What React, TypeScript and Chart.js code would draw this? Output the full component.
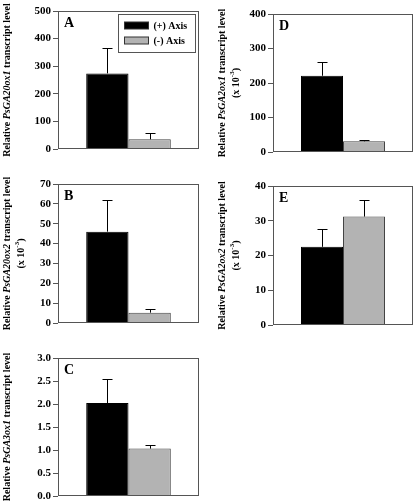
import React, { useEffect, useRef } from 'react';
import { Chart, registerables } from 'chart.js';
Chart.register(...registerables);

// ---- data ----
const categories = [''];
const seriesLabels = ['(+) Axis', '(-) Axis'];
const seriesColors = ['#000000', '#b3b3b3'];
const panelLetters = ['A', 'B', 'C', 'D', 'E'];
const geneNames = ['PsGA20ox1', 'PsGA20ox2', 'PsGA3ox1', 'PsGA2ox1', 'PsGA2ox2'];
const scaledBy1e3 = [false, true, false, true, true];
const plusAxisMeans = [274, 46, 2.02, 221, 22.5];
const plusAxisErrors = [93, 16, 0.52, 40, 5.1];
const minusAxisMeans = [35, 5.2, 1.03, 31, 31.2];
const minusAxisErrors = [22, 2.0, 0.07, 5, 4.7];
const yAxisMax = [500, 70, 3, 400, 40];
const yAxisStep = [100, 10, 0.5, 100, 10];
const tickDecimals = [0, 0, 1, 0, 0];
const showLegend = [true, false, false, false, false];

// ---- layout ----
const plotRects = [
  { left: 58, top: 11, right: 199, bottom: 149, colX: 0 },
  { left: 58, top: 184, right: 199, bottom: 323, colX: 0 },
  { left: 58, top: 358, right: 199, bottom: 496, colX: 0 },
  { left: 273, top: 14, right: 413, bottom: 152, colX: 205 },
  { left: 273, top: 186, right: 413, bottom: 325, colX: 205 },
];

const FONT = "'Liberation Serif', 'Times New Roman', serif";
const BOX = '#555555';

function drawSegments(ctx: CanvasRenderingContext2D, segs: { t: string; font: string; dy?: number }[], cx: number, cy: number) {
  let total = 0;
  const widths = segs.map((s) => {
    ctx.font = s.font;
    const w = ctx.measureText(s.t).width;
    total += w;
    return w;
  });
  let x = cx - total / 2;
  segs.forEach((s, i) => {
    ctx.font = s.font;
    ctx.fillText(s.t, x, cy + (s.dy || 0));
    x += widths[i];
  });
}

const decorPlugin = {
  id: 'decor',
  afterDatasetsDraw(chart: any) {
    const ctx = chart.ctx as CanvasRenderingContext2D;
    const yScale = chart.scales.y;
    ctx.save();
    ctx.strokeStyle = '#000';
    ctx.lineWidth = 1;
    chart.data.datasets.forEach((ds: any, di: number) => {
      const meta = chart.getDatasetMeta(di);
      meta.data.forEach((el: any, j: number) => {
        const v = ds.data[j];
        const e = ds.errors[j];
        const x = Math.round(el.x) + 0.5;
        const yb = el.y;
        const yt = Math.round(yScale.getPixelForValue(v + e)) + 0.5;
        ctx.beginPath();
        ctx.moveTo(x, yb);
        ctx.lineTo(x, yt);
        ctx.moveTo(x - 5, yt);
        ctx.lineTo(x + 5, yt);
        ctx.stroke();
      });
    });
    ctx.restore();
  },
  afterDraw(chart: any, _args: any, opts: any) {
    const ctx = chart.ctx as CanvasRenderingContext2D;
    const ca = chart.chartArea;
    ctx.save();
    // box
    ctx.strokeStyle = BOX;
    ctx.lineWidth = 1;
    const l = Math.round(ca.left) + 0.5;
    const t = Math.round(ca.top) + 0.5;
    const r = Math.round(ca.right) - 0.5;
    const b = Math.round(ca.bottom) - 0.5;
    ctx.strokeRect(l, t, r - l, b - t);
    // panel letter
    ctx.fillStyle = '#000';
    ctx.textBaseline = 'top';
    ctx.textAlign = 'left';
    ctx.font = `bold 14px ${FONT}`;
    ctx.fillText(opts.letter, ca.left + 6, ca.top + 5);
    // axis title
    const cy = (ca.top + ca.bottom) / 2;
    ctx.textBaseline = 'middle';
    ctx.save();
    ctx.translate(ca.left - 51, cy);
    ctx.rotate(-Math.PI / 2);
    drawSegments(ctx, [
      { t: 'Relative ', font: `bold 10px ${FONT}` },
      { t: opts.gene, font: `italic bold 10px ${FONT}` },
      { t: ' transcript level', font: `bold 10px ${FONT}` },
    ], 0, 0);
    ctx.restore();
    if (opts.scaled) {
      ctx.save();
      ctx.translate(ca.left - 37, cy);
      ctx.rotate(-Math.PI / 2);
      drawSegments(ctx, [
        { t: '(x 10', font: `bold 10px ${FONT}` },
        { t: '-3', font: `bold 7px ${FONT}`, dy: -4 },
        { t: ')', font: `bold 10px ${FONT}` },
      ], 0, 0);
      ctx.restore();
    }
    // legend
    if (opts.legend) {
      const bx = Math.round(ca.left) + 60.5;
      const by = Math.round(ca.top) + 3.5;
      ctx.strokeStyle = BOX;
      ctx.strokeRect(bx, by, 77, 38);
      chart.data.datasets.forEach((ds: any, i: number) => {
        const sy = by + 7.5 + i * 15;
        ctx.fillStyle = ds.backgroundColor;
        ctx.fillRect(bx + 6, sy, 24, 7);
        ctx.strokeStyle = '#333';
        ctx.strokeRect(bx + 6, sy, 24, 7);
        ctx.fillStyle = '#000';
        ctx.font = `bold 10px ${FONT}`;
        ctx.textBaseline = 'middle';
        ctx.fillText(ds.label, bx + 35, sy + 4);
      });
    }
    ctx.restore();
  },
};

function Panel({ index }: { index: number }) {
  const ref = useRef<HTMLCanvasElement>(null);
  const r = plotRects[index];
  const canvasTop = r.top - 16;
  const canvasLeft = r.colX;
  const width = r.right - r.colX + 6;
  const height = r.bottom - canvasTop + 10;
  useEffect(() => {
    const chart = new Chart(ref.current as HTMLCanvasElement, {
      type: 'bar',
      data: {
        labels: categories,
        datasets: [
          {
            label: seriesLabels[0],
            data: [plusAxisMeans[index]],
            errors: [plusAxisErrors[index]],
            backgroundColor: seriesColors[0],
            borderColor: '#000',
            borderWidth: 1,
            barPercentage: 1,
            categoryPercentage: 0.6,
          } as any,
          {
            label: seriesLabels[1],
            data: [minusAxisMeans[index]],
            errors: [minusAxisErrors[index]],
            backgroundColor: seriesColors[1],
            borderColor: '#444',
            borderWidth: 1,
            barPercentage: 1,
            categoryPercentage: 0.6,
          } as any,
        ],
      },
      options: {
        responsive: false,
        animation: false,
        devicePixelRatio: 1,
        layout: {
          padding: {
            left: 0,
            top: r.top - canvasTop,
            right: canvasLeft + width - r.right,
            bottom: canvasTop + height - r.bottom,
          },
        },
        plugins: {
          legend: { display: false },
          tooltip: { enabled: false },
          title: { display: false },
          decor: {
            letter: panelLetters[index],
            gene: geneNames[index],
            scaled: scaledBy1e3[index],
            legend: showLegend[index],
          },
        } as any,
        scales: {
          x: { display: false },
          y: {
            min: 0,
            max: yAxisMax[index],
            afterFit: (scale: any) => {
              scale.width = r.left - canvasLeft;
            },
            border: { display: false },
            grid: {
              display: true,
              drawOnChartArea: false,
              drawTicks: true,
              tickLength: 5,
              color: BOX,
              lineWidth: 1,
            },
            ticks: {
              stepSize: yAxisStep[index],
              padding: 2,
              color: '#000',
              font: { family: FONT, size: 11, weight: 'bold' },
              callback: (v: any) => Number(v).toFixed(tickDecimals[index]),
            },
          },
        },
      },
      plugins: [decorPlugin],
    });
    return () => chart.destroy();
  }, []);
  return (
    <canvas
      ref={ref}
      width={width}
      height={height}
      style={{ position: 'absolute', left: canvasLeft, top: canvasTop, width, height }}
    />
  );
}

export default function App() {
  return (
    <div
      style={{
        position: 'absolute',
        left: 0,
        top: 0,
        width: 415,
        height: 502,
        background: '#fff',
        overflow: 'hidden',
      }}
    >
      {panelLetters.map((_, i) => (
        <Panel key={i} index={i} />
      ))}
    </div>
  );
}
